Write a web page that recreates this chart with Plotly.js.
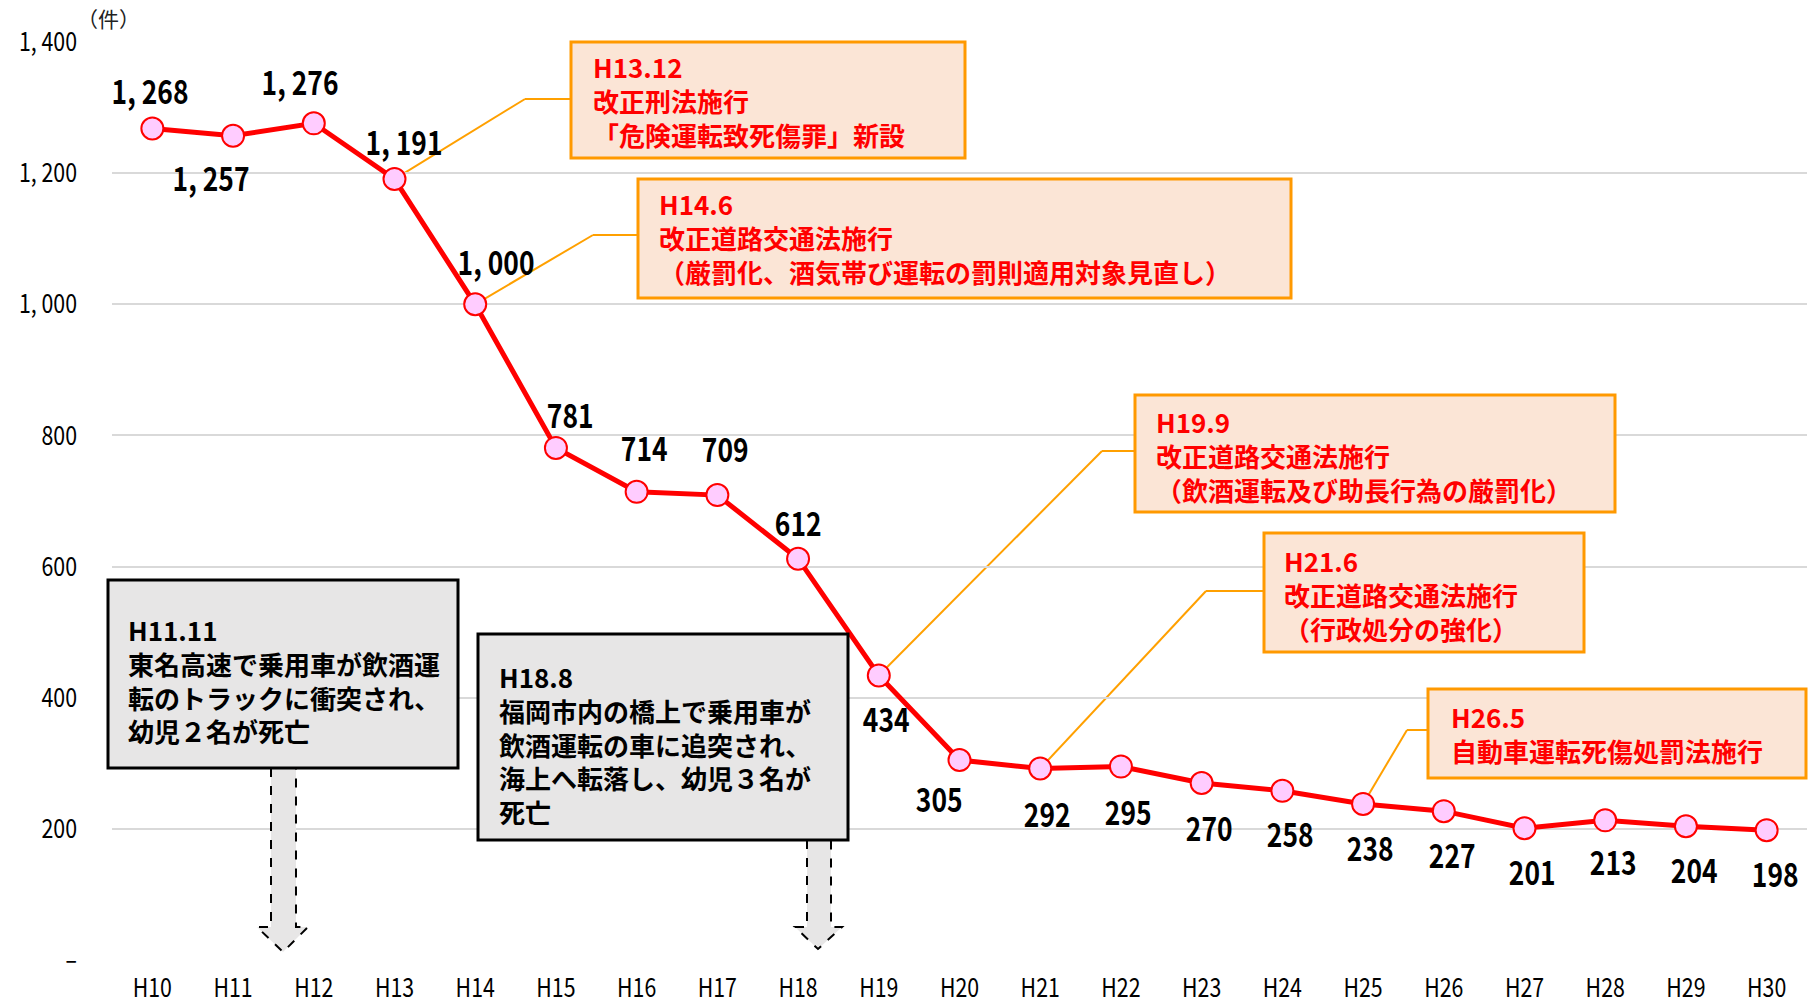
<!DOCTYPE html>
<html>
<head>
<meta charset="utf-8">
<script src="https://cdn.plot.ly/plotly-3.0.1.min.js"></script>
<style>
html,body{margin:0;padding:0;background:#fff;}
#chart{width:1809px;height:1003px;}
</style>
</head>
<body>
<div id="chart"></div>
<script>
// ---------- data ----------
const categories = ['H10','H11','H12','H13','H14','H15','H16','H17','H18','H19','H20',
                    'H21','H22','H23','H24','H25','H26','H27','H28','H29','H30'];
const values = [1268,1257,1276,1191,1000,781,714,709,612,434,305,
                292,295,270,258,238,227,201,213,204,198];
const yTickVals = [0,200,400,600,800,1000,1200,1400];
const yTickText = ['–','200','400','600','800','1, 000','1, 200','1, 400'];
const unitLabel = '（件）';

const lawNotes = [
  ['H13.12','改正刑法施行','「危険運転致死傷罪」新設'],
  ['H14.6','改正道路交通法施行','（厳罰化、酒気帯び運転の罰則適用対象見直し）'],
  ['H19.9','改正道路交通法施行','（飲酒運転及び助長行為の厳罰化）'],
  ['H21.6','改正道路交通法施行','（行政処分の強化）'],
  ['H26.5','自動車運転死傷処罰法施行']
];
const lawNoteYears = ['H13','H14','H19','H21','H25'];
const accidentNotes = [
  ['H11.11','東名高速で乗用車が飲酒運','転のトラックに衝突され、','幼児２名が死亡'],
  ['H18.8','福岡市内の橋上で乗用車が','飲酒運転の車に追突され、','海上へ転落し、幼児３名が','死亡']
];

// ---------- styling / layout geometry ----------
const W = 1809, H = 1003;
const M = {l:112, r:2, t:42, b:43};
const PW = W - M.l - M.r, PH = H - M.t - M.b;
const fx = px => (px - M.l) / PW;
const fy = py => (H - M.b - py) / PH;
const catW = PW / categories.length;
const dX = px => (px - M.l) / catW - 0.5;
const dY = py => (H - M.b - py) * 1400 / PH;

const FONT = "'Noto Sans CJK JP', 'Noto Sans', sans-serif";

// data-label offsets [dx, dy] in px (dy positive = up)
const labelOffsets = [[-2,39],[-22,-41],[-14,42],[9,38],[21,43],[14,34],[7,45],[8,47],[0,37],
  [7,-43],[-21,-38],[7,-44],[7,-44],[7,-44],[8,-42],[7,-43],[8,-43],[7,-43],[8,-41],[8,-43],[8,-43]];

const lawGeom = [
  {x0:571,y0:42,x1:965,y1:158, tx:592, ty:[68,133], elbow:[525,99]},
  {x0:638,y0:179,x1:1291,y1:298, tx:658, ty:[205,270], elbow:[593,235]},
  {x0:1135,y0:395,x1:1615,y1:512, tx:1155, ty:[423,488], elbow:[1102,451]},
  {x0:1264,y0:533,x1:1584,y1:652, tx:1283, ty:[563,627], elbow:[1206,591]},
  {x0:1428,y0:689,x1:1806,y1:778, tx:1450, ty:[718,748], elbow:[1407,730]}
];
const accGeom = [
  {x0:108,y0:580,x1:458,y1:768, tx:127, ty:[632,727],
   arrow:[[271,768],[271,927],[257,927],[283,952],[308,927],[296,927],[296,768]]},
  {x0:478,y0:634,x1:848,y1:840, tx:498, ty:[680,808],
   arrow:[[807,840],[807,927],[795,927],[818,949],[842,927],[831,927],[831,840]]}
];

const fmt = v => v >= 1000 ? Math.floor(v/1000) + ', ' + String(v % 1000).padStart(3,'0') : String(v);

const shapes = [];
const annotations = [];

// data labels
categories.forEach((c,i) => {
  annotations.push({
    x: c, y: values[i], xref:'x', yref:'y', text: fmt(values[i]), showarrow:false,
    xshift: labelOffsets[i][0], yshift: labelOffsets[i][1],
    font:{family:FONT, size:33, color:'#000', weight:'bold'}
  });
});

// law callouts
lawNotes.forEach((lines,k) => {
  const g = lawGeom[k];
  const yr = lawNoteYears[k];
  const idx = categories.indexOf(yr);
  shapes.push({type:'line', xref:'x', yref:'y', layer:'below',
    x0: yr, y0: values[idx], x1: dX(g.elbow[0]), y1: dY(g.elbow[1]),
    line:{color:'#FFA000', width:2}});
  shapes.push({type:'line', xref:'x', yref:'y', layer:'below',
    x0: dX(g.elbow[0]), y0: dY(g.elbow[1]), x1: dX(g.x0), y1: dY(g.elbow[1]),
    line:{color:'#FFA000', width:2}});
  shapes.push({type:'rect', xref:'paper', yref:'paper',
    x0: fx(g.x0), x1: fx(g.x1), y0: fy(g.y1), y1: fy(g.y0),
    fillcolor:'#FBE5D6', line:{color:'#FF9900', width:3}});
  annotations.push({xref:'paper', yref:'paper', x: fx(g.tx), y: fy((g.ty[0]+g.ty[1])/2),
    xanchor:'left', yanchor:'middle', align:'left', showarrow:false, text: lines.join('<br>'), borderpad:0,
    font:{family:FONT, size:26, color:'#FF0000', weight:'bold'}});
});

// accident callouts
accidentNotes.forEach((lines,k) => {
  const g = accGeom[k];
  const path = g.arrow.map((p,n) => (n===0?'M':'L') + fx(p[0]).toFixed(5) + ',' + fy(p[1]).toFixed(5)).join(' ') + ' Z';
  shapes.push({type:'path', xref:'paper', yref:'paper', path: path,
    fillcolor:'#E7E6E6', line:{color:'#000', width:2, dash:'dash'}});
  shapes.push({type:'rect', xref:'paper', yref:'paper',
    x0: fx(g.x0), x1: fx(g.x1), y0: fy(g.y1), y1: fy(g.y0),
    fillcolor:'#E7E6E6', line:{color:'#000', width:3}});
  annotations.push({xref:'paper', yref:'paper', x: fx(g.tx), y: fy((g.ty[0]+g.ty[1])/2),
    xanchor:'left', yanchor:'middle', align:'left', showarrow:false, text: lines.join('<br>'), borderpad:0,
    font:{family:FONT, size:26, color:'#000', weight:'bold'}});
});

// unit label
annotations.push({xref:'paper', yref:'paper', x: fx(108), y: fy(18), xanchor:'center', yanchor:'middle',
  showarrow:false, text: unitLabel, font:{family:FONT, size:21, color:'#222'}});

const trace = {
  x: categories, y: values, type:'scatter', mode:'lines+markers',
  line:{color:'#FF0000', width:5},
  marker:{size:22, color:'#FFCCFF', line:{color:'#FF0000', width:2}},
  cliponaxis:false, hoverinfo:'x+y'
};

const layout = {
  width: W, height: H,
  margin: M,
  paper_bgcolor:'#fff', plot_bgcolor:'#fff',
  showlegend:false,
  font:{family:FONT, color:'#000'},
  xaxis:{type:'category', range:[-0.5, categories.length-0.5], showgrid:false, zeroline:false,
    showline:false, ticks:'', tickfont:{family:FONT, size:26, color:'#000'}, ticklabelstandoff:10},
  yaxis:{range:[0,1400], tickvals:yTickVals, ticktext:yTickText, showgrid:true,
    gridcolor:'#D9D9D9', gridwidth:2, zeroline:false, showline:false, ticks:'',
    tickfont:{family:FONT, size:26, color:'#000'}, ticklabelstandoff:34},
  shapes: shapes,
  annotations: annotations
};

// horizontally condense numeric texts to mimic the narrow gothic face of the original
function squeeze(el, f) {
  const w = el.getComputedTextLength();
  if (w > 0) {
    el.setAttribute('textLength', (w * f).toFixed(1));
    el.setAttribute('lengthAdjust', 'spacingAndGlyphs');
  }
}

Plotly.newPlot('chart', [trace], layout, {staticPlot:true, displayModeBar:false}).then(gd => {
  gd.querySelectorAll('.xtick text, .ytick text').forEach(el => squeeze(el, 0.82));
  categories.forEach((c,i) => {
    const t = gd.querySelector('.annotation[data-index="' + i + '"] .annotation-text');
    if (t) squeeze(t, 0.8);
  });
});
</script>
</body>
</html>
